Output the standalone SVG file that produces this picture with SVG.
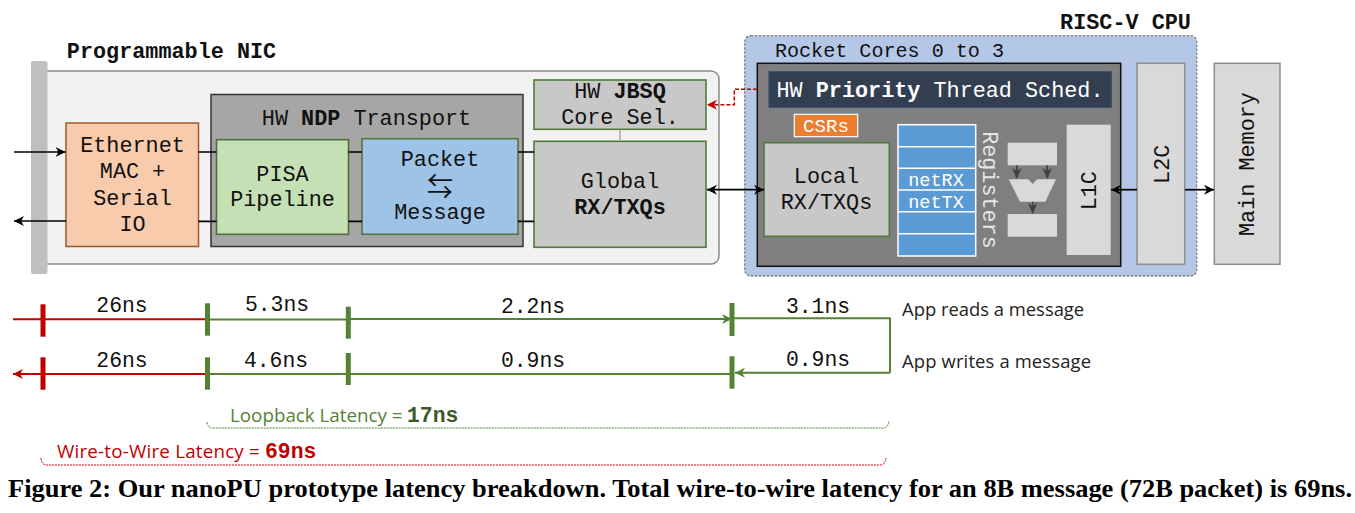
<svg xmlns="http://www.w3.org/2000/svg" width="1355" height="513" viewBox="0 0 1355 513">
<style>
text{font-family:"Liberation Mono",monospace;font-size:21.8px;fill:#111;text-anchor:middle}
.b{font-weight:bold}
.w{fill:#fff}
.gbox{fill:#c8c8c8;stroke:#4f7a3a;stroke-width:1.6}
.lbox{fill:#d9d9d9;stroke:#8c8c8c;stroke-width:1.5}
.alu{fill:#d9d9d9;stroke:none}
.blk{stroke:#000;stroke-width:1.7;fill:none}
.red{stroke:#c00000;stroke-width:2;fill:none}
.grn{stroke:#548235;stroke-width:2;fill:none}
.rt{fill:#c00000}.gt{fill:#548235}
.t{font-size:21.4px}
.app{font-family:"Open Sans",sans-serif;font-size:18.4px;text-anchor:start;fill:#222}
.lat{font-family:"Open Sans",sans-serif;font-size:18.800px;text-anchor:start}
.latb{font-family:"Liberation Mono",monospace;font-weight:bold;font-size:21.400px;text-anchor:start;letter-spacing:0}
</style>
<defs>
<marker id="ab" markerWidth="12" markerHeight="12" refX="10" refY="5" orient="auto-start-reverse" markerUnits="userSpaceOnUse"><path d="M0 0L10 5L0 10L3 5Z" fill="#000"/></marker>
<marker id="ar" markerWidth="12" markerHeight="12" refX="10" refY="5" orient="auto-start-reverse" markerUnits="userSpaceOnUse"><path d="M0 0L10 5L0 10L3 5Z" fill="#c00000"/></marker>
<marker id="ag" markerWidth="12" markerHeight="12" refX="10" refY="5" orient="auto-start-reverse" markerUnits="userSpaceOnUse"><path d="M0 0L10 5L0 10L3 5Z" fill="#548235"/></marker>
</defs>

<g id="nic">
<rect x="40" y="71" width="679" height="193" rx="8" fill="#f2f2f2" stroke="#8c8c8c" stroke-width="1.5"/>
<rect x="31" y="61" width="16.500" height="213" rx="2" fill="#bfbfbf"/>
<text class="b" x="171.500" y="58">Programmable NIC</text>
</g>
<g id="ndp">
<rect x="211" y="94.500" width="312" height="152" fill="#a6a6a6" stroke="#333" stroke-width="1.5"/>
<text x="366.500" y="125">HW <tspan class="b">NDP</tspan> Transport</text>
</g>
<g id="ethernet">
<rect x="66" y="123" width="132.500" height="123.500" fill="#f8cbad" stroke="#9c5a2c" stroke-width="1.5"/>
<text x="132.500" y="152.300">Ethernet</text><text x="132.500" y="178.300">MAC +</text><text x="132.500" y="204.700">Serial</text><text x="132.500" y="231">IO</text>
</g>
<g id="pisa">
<rect x="216.500" y="139.700" width="132" height="94.600" fill="#c5e0b4" stroke="#4f6f3a" stroke-width="1.6"/>
<text x="282.500" y="181">PISA</text><text x="282.500" y="206">Pipeline</text>
</g>
<g id="packet">
<rect x="362" y="138.700" width="156" height="95.600" fill="#9dc3e6" stroke="#4f7a3a" stroke-width="1.6"/>
<text x="440" y="166">Packet</text>
<text x="440" y="195.500" style="font-family:'Noto Sans CJK SC','DejaVu Sans',sans-serif;font-size:26px">⇆</text>
<text x="440" y="219">Message</text>
</g>
<g id="jbsq">
<rect class="gbox" x="534" y="80" width="172" height="49.300"/>
<text x="620" y="98.300">HW <tspan class="b">JBSQ</tspan></text><text x="620" y="124">Core Sel.</text>
</g>
<g id="global">
<rect class="gbox" x="534" y="141.300" width="172" height="106"/>
<text x="620" y="187.700">Global</text><text class="b" x="620" y="213.700">RX/TXQs</text>
</g>

<g id="cpu">
<rect x="744.700" y="35.700" width="452" height="240.300" rx="6" fill="#b4c7e7" stroke="#7f7f7f" stroke-width="1.3" stroke-dasharray="2.500 1.500"/>
<text class="b" x="1125.500" y="29.300">RISC-V CPU</text>
<text x="889.500" y="57.300" style="font-size:20.100px">Rocket Cores 0 to 3</text>
</g>
<g id="core">
<rect x="757.300" y="63.300" width="363.400" height="203" fill="#7f7f7f" stroke="#111" stroke-width="1.5"/>
</g>
<g id="sched">
<rect x="769" y="71.700" width="342.300" height="35.600" fill="#333f50" stroke="#2f4a6e" stroke-width="1"/>
<text class="w" x="940" y="96.500">HW <tspan class="b w">Priority</tspan> Thread Sched.</text>
</g>
<g id="csrs">
<rect x="794.300" y="114.300" width="63.400" height="22.400" fill="#ed7d31" stroke="#fff" stroke-width="1.2"/>
<text class="w" x="826" y="132" style="font-size:19.200px">CSRs</text>
</g>
<g id="local">
<rect class="gbox" x="764" y="142.700" width="125.300" height="93.600"/>
<text x="826.500" y="182.700">Local</text><text x="826.500" y="209">RX/TXQs</text>
</g>
<g id="registers">
<rect x="898" y="124.700" width="77.700" height="131.300" fill="#5b9bd5" stroke="#fff" stroke-width="1.5"/>
<path d="M898 146.700H975.700M898 168.300H975.700M898 190H975.700M898 211.700H975.700M898 233.700H975.700" stroke="#fff" stroke-width="1.5" fill="none"/>
<text class="w" x="936" y="186" style="font-size:18.500px">netRX</text>
<text class="w" x="936" y="207.700" style="font-size:18.500px">netTX</text>
<text x="982.700" y="190" transform="rotate(90 982.700 190)" style="fill:#e6e6e6">Registers</text>
</g>
<g id="alu">
<rect class="alu" x="1007.700" y="142.700" width="49.300" height="22.600"/>
<rect class="alu" x="1007.700" y="214" width="49.300" height="22.700"/>
<polygon class="alu" points="1008.700,179.300 1028.300,179.300 1032.700,184 1037,179.300 1056,179.300 1045.300,201.700 1020,201.700"/>
<path d="M1016.700 165.300V178M1047.300 165.300V178M1032.700 201.700V213" stroke="#404040" stroke-width="1.6" fill="none"/>
<path d="M1012 168L1016.700 179L1021.400 168L1016.700 171ZM1042.600 168L1047.300 179L1052 168L1047.300 171ZM1028 203L1032.700 214L1037.400 203L1032.700 206Z" fill="#404040"/>
</g>
<g id="l1c">
<rect x="1066.700" y="124.700" width="44" height="130.300" fill="#d9d9d9"/>
<text x="1096" y="190.700" transform="rotate(-90 1096 190.700)">L1C</text>
</g>
<g id="l2c">
<rect class="lbox" x="1137" y="63.300" width="47.700" height="201"/>
<text x="1168.700" y="164.300" transform="rotate(-90 1168.700 164.300)">L2C</text>
</g>
<g id="memory">
<rect class="lbox" x="1214.300" y="63.300" width="65.700" height="201"/>
<text x="1254.300" y="164" transform="rotate(-90 1254.300 164)">Main Memory</text>
</g>

<g id="connectors">
<path class="blk" d="M198.500 152H216.500M348.500 152H362M518 152H534M198.500 221.300H216.500M348.500 221.300H362M518 221.300H534"/>
<path class="blk" marker-end="url(#ab)" d="M14 152H65.500"/>
<path class="blk" marker-end="url(#ab)" d="M66 221H14"/>
<path d="M620 129.500V141" stroke="#a6a6a6" stroke-width="1.5"/>
<path class="blk" marker-start="url(#ab)" marker-end="url(#ab)" d="M707 189.700H764"/>
<path d="M757 89.300H734.300V104.700H707" fill="none" stroke="#c00000" stroke-width="1.500" stroke-dasharray="4 2" marker-end="url(#ar)"/>
<path class="blk" marker-end="url(#ab)" d="M1137 189.700H1111"/>
<path class="blk" marker-end="url(#ab)" d="M1185 189.700H1214"/>
</g>

<g id="timeline">
<path class="red" d="M13 319.300H207"/>
<path class="red" marker-end="url(#ar)" d="M207 374H13"/>
<path class="grn" d="M207 319.500H348"/>
<path class="grn" marker-end="url(#ag)" d="M348 319H732"/>
<path class="grn" d="M732 318.300H890V372.700"/>
<path class="grn" marker-end="url(#ag)" d="M890 372.700H735"/>
<path class="grn" d="M732 374H207"/>
<rect class="rt" x="40.500" y="304.300" width="5" height="32.400"/>
<rect class="rt" x="40.500" y="357.300" width="5" height="32.400"/>
<rect class="gt" x="205" y="303.300" width="5" height="32.400"/>
<rect class="gt" x="205" y="357.300" width="5" height="32.400"/>
<rect class="gt" x="345.800" y="306.700" width="5" height="32"/>
<rect class="gt" x="345.800" y="353" width="5" height="32"/>
<rect class="gt" x="729.500" y="303" width="5" height="33"/>
<rect class="gt" x="729.500" y="356.300" width="5" height="32.400"/>
<text class="t" x="122" y="311.700">26ns</text>
<text class="t" x="277" y="311">5.3ns</text>
<text class="t" x="533" y="312.700">2.2ns</text>
<text class="t" x="818" y="313">3.1ns</text>
<text class="t" x="122" y="367">26ns</text>
<text class="t" x="276" y="367">4.6ns</text>
<text class="t" x="533" y="367">0.9ns</text>
<text class="t" x="818" y="366">0.9ns</text>
<text class="app" x="902" y="316">App reads a message</text>
<text class="app" x="902" y="368" textLength="189">App writes a message</text>
</g>
<g id="latency">
<path d="M207 422Q207.500 428 213 428H883Q888 428 889 421" fill="none" stroke="#548235" stroke-width="1" stroke-dasharray="2 1"/>
<path d="M41 458Q41.500 465 47 465H881Q885 465 886 458" fill="none" stroke="#c00000" stroke-width="1" stroke-dasharray="2 1"/>
<text class="lat" x="230" y="421.500" style="fill:#548235">Loopback Latency = <tspan class="latb" x="407" style="fill:#3b5a2a">17ns</tspan></text>
<text class="lat" x="57" y="458" style="fill:#c00000;letter-spacing:0.2px">Wire-to-Wire Latency = <tspan class="latb" x="265" style="fill:#c00000">69ns</tspan></text>
</g>
<text id="caption" x="8" y="497" textLength="1344" lengthAdjust="spacingAndGlyphs" style="font-family:'Liberation Serif',serif;font-weight:bold;font-size:26px;text-anchor:start;fill:#000">Figure 2: Our nanoPU prototype latency breakdown. Total wire-to-wire latency for an 8B message (72B packet) is 69ns.</text>
</svg>
